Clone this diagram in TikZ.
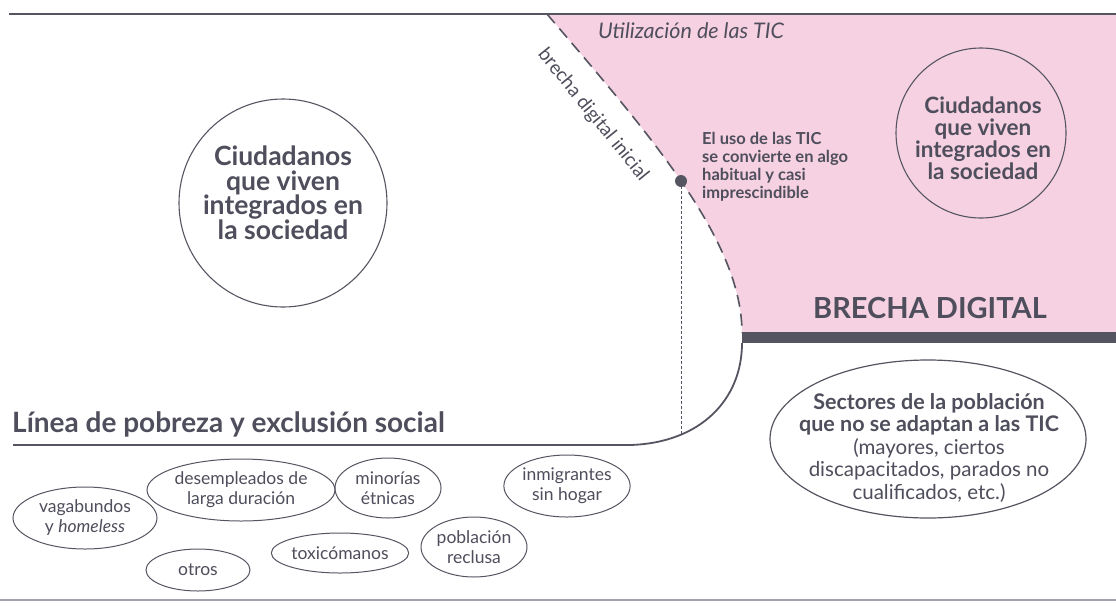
\documentclass[tikz,border=0pt]{standalone}
\usepackage{fontspec}
\setmainfont{Lato}
\usetikzlibrary{shapes.geometric}
\definecolor{ink}{RGB}{78,78,92}
\definecolor{linec}{RGB}{85,85,98}
\definecolor{pinkc}{RGB}{246,209,225}
\begin{document}
\begin{tikzpicture}[x=1pt,y=-1pt,
  every node/.style={text=ink, inner sep=0pt},
  smallell/.style={ellipse, draw=linec, line width=1pt, align=center, font=\fontsize{17.5}{20}\selectfont},
  bigcirc/.style={circle, draw=linec, line width=1.1pt},
  boldtxt/.style={align=center, font=\bfseries},
  mainline/.style={draw=linec, line width=1.8pt},
]
\useasboundingbox (0,0) rectangle (1116,606);
\fill[white] (0,0) rectangle (1116,606);
% pink area
\fill[pinkc] (547,14) .. controls (650,135) and (742,240) .. (742,333) -- (1116,333) -- (1116,14) -- cycle;
% top and bottom lines
\coordinate (tl) at (9,14);
\coordinate (tr) at (1116,14);
\draw[mainline, line width=2pt] (tl) -- (tr);
\coordinate (bl) at (0,600);
\coordinate (br) at (1116,600);
\draw[draw=linec!55, line width=1.5pt] (bl) -- (br);
% dashed initial gap
\coordinate (gtop) at (547,14);
\coordinate (gbot) at (742,333);
\draw[draw=linec, line width=1.6pt, dash pattern=on 12pt off 7pt] (gtop) .. controls (650,135) and (742,240) .. (gbot);
% thick bar
\fill[linec] (742,332) rectangle (1116,343);
% poverty line
\coordinate (cstart) at (742,343);
\coordinate (pend) at (13,445);
\draw[mainline] (cstart) .. controls (742,400) and (700,443) .. (630,445) -- (pend);
% dot and dotted vertical
\node[circle, fill=linec, minimum size=12pt] (dot) at (681,181) {};
\coordinate (vb) at (681,435);
\draw[draw=linec, line width=1pt, dash pattern=on 3pt off 2pt] (dot.center) -- (vb);
% texts
\node[font=\itshape\fontsize{21.5}{24}\selectfont, anchor=west] (util) at (598,31) {Utilización de las TIC};
\node[font=\fontsize{19}{22}\selectfont, rotate=-51] (brecha) at (593,115) {brecha digital inicial};
\node[align=left, anchor=north west, font=\bfseries\fontsize{16.5}{18}\selectfont] (uso) at (702,132) {El uso de las TIC\\se convierte en algo\\habitual y casi\\imprescindible};
% left circle
\node[bigcirc, minimum size=208pt] (lc) at (283,203) {};
\node[boldtxt, font=\bfseries\fontsize{26.5}{24.5}\selectfont] (lct) at (283,193) {Ciudadanos\\que viven\\integrados en\\la sociedad};
% right circle
\node[bigcirc, minimum size=170pt] (rc) at (981,133) {};
\node[boldtxt, font=\bfseries\fontsize{22.5}{22}\selectfont] (rct) at (983,138) {Ciudadanos\\que viven\\integrados en\\la sociedad};
% brecha digital
\node[font=\bfseries\fontsize{29}{32}\selectfont] (bd) at (930,308) {BRECHA DIGITAL};
% poverty title
\node[font=\bfseries\fontsize{28}{30}\selectfont, anchor=west] (pov) at (12,424) {Línea de pobreza y exclusión social};
% big ellipse
\node[ellipse, draw=linec, line width=1.2pt, minimum width=316pt, minimum height=158pt] (sect) at (928,439) {};
\node[align=center, font=\fontsize{20.5}{22.5}\selectfont] (sectt) at (929,448) {\bfseries\fontsize{21.5}{22.5}\selectfont Sectores de la población\\\bfseries\fontsize{21.5}{22.5}\selectfont que no se adaptan a las TIC\\(mayores, ciertos\\discapacitados, parados no\\cualificados, etc.)};
% small ellipses
\node[smallell, minimum width=144pt, minimum height=62pt] (vag) at (85,518) {vagabundos\\y \textit{homeless}};
\node[smallell, minimum width=172pt, minimum height=62pt] (des) at (241,490) {desempleados de\\larga duración};
\node[smallell, minimum width=106pt, minimum height=60pt] (min) at (388,488) {minorías\\étnicas};
\node[smallell, minimum width=110pt, minimum height=62pt] (inm) at (567,486) {inmigrantes\\sin hogar};
\node[smallell, minimum width=104pt, minimum height=42pt] (otr) at (198,570) {otros};
\node[smallell, minimum width=124pt, minimum height=40pt] (tox) at (340,553) {toxicómanos};
\node[smallell, minimum width=106pt, minimum height=60pt] (pob) at (474,547) {población\\reclusa};
\end{tikzpicture}
\end{document}
